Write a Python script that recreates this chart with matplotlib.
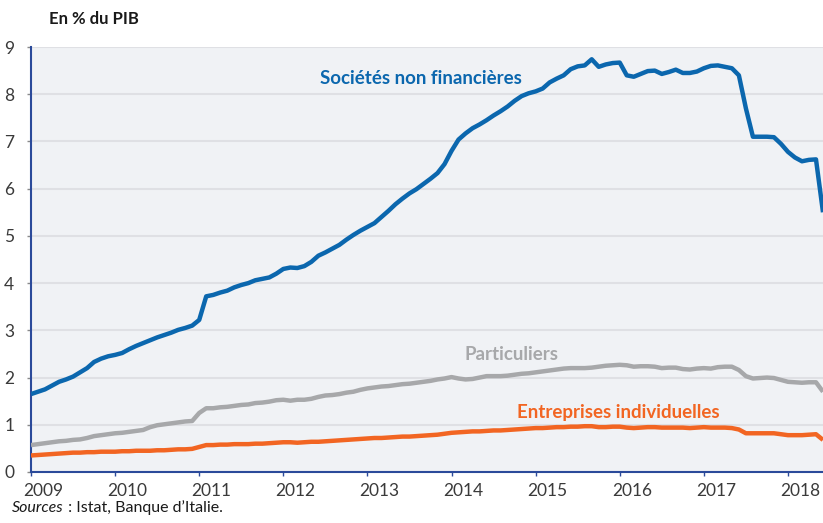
import numpy as np
import matplotlib
matplotlib.use('Agg')
import matplotlib.pyplot as plt
import matplotlib.transforms as mtransforms

plt.rcParams['font.family'] = ['Lato', 'DejaVu Sans']

# Monthly series, January 2009 to June 2018 (en % du PIB)
START_YEAR = 2009
societes = [
    1.65, 1.70, 1.75, 1.83, 1.91, 1.96, 2.02, 2.11, 2.20, 2.33, 2.40, 2.45,
    2.48, 2.52, 2.60, 2.67, 2.73, 2.79, 2.85, 2.90, 2.95, 3.01, 3.05, 3.10,
    3.22, 3.72, 3.75, 3.80, 3.84, 3.91, 3.96, 4.00, 4.06, 4.09, 4.12, 4.20,
    4.30, 4.33, 4.32, 4.36, 4.45, 4.58, 4.65, 4.73, 4.81, 4.92, 5.02, 5.11,
    5.19, 5.27, 5.40, 5.53, 5.67, 5.79, 5.90, 5.99, 6.10, 6.21, 6.33, 6.52,
    6.80, 7.04, 7.17, 7.28, 7.36, 7.45, 7.55, 7.64, 7.74, 7.86, 7.96, 8.02,
    8.06, 8.12, 8.25, 8.33, 8.40, 8.53, 8.59, 8.61, 8.74, 8.58, 8.63, 8.66,
    8.67, 8.40, 8.37, 8.43, 8.49, 8.50, 8.43, 8.47, 8.52, 8.45, 8.45, 8.48,
    8.55, 8.60, 8.61, 8.58, 8.55, 8.40, 7.70, 7.10, 7.10, 7.10, 7.09, 6.95,
    6.78, 6.66, 6.58, 6.61, 6.62, 5.50,
]
particuliers = [
    0.57, 0.59, 0.61, 0.63, 0.65, 0.66, 0.68, 0.69, 0.72, 0.76, 0.78, 0.80,
    0.82, 0.83, 0.85, 0.87, 0.89, 0.95, 0.99, 1.01, 1.03, 1.05, 1.07, 1.08,
    1.25, 1.35, 1.35, 1.37, 1.38, 1.40, 1.42, 1.43, 1.46, 1.47, 1.49, 1.52,
    1.53, 1.51, 1.53, 1.53, 1.55, 1.59, 1.62, 1.63, 1.65, 1.68, 1.70, 1.74,
    1.77, 1.79, 1.81, 1.82, 1.84, 1.86, 1.87, 1.89, 1.91, 1.93, 1.96, 1.98,
    2.01, 1.98, 1.96, 1.97, 2.00, 2.03, 2.03, 2.03, 2.04, 2.06, 2.08, 2.09,
    2.11, 2.13, 2.15, 2.17, 2.19, 2.20, 2.20, 2.20, 2.21, 2.23, 2.25, 2.26,
    2.27, 2.26, 2.23, 2.24, 2.24, 2.23, 2.20, 2.21, 2.21, 2.18, 2.17, 2.19,
    2.20, 2.19, 2.22, 2.23, 2.23, 2.16, 2.03, 1.98, 1.99, 2.00, 1.99, 1.95,
    1.91, 1.90, 1.89, 1.90, 1.90, 1.70,
]
entreprises = [
    0.35, 0.36, 0.37, 0.38, 0.39, 0.40, 0.41, 0.41, 0.42, 0.42, 0.43, 0.43,
    0.43, 0.44, 0.44, 0.45, 0.45, 0.45, 0.46, 0.46, 0.47, 0.48, 0.48, 0.49,
    0.53, 0.57, 0.57, 0.58, 0.58, 0.59, 0.59, 0.59, 0.60, 0.60, 0.61, 0.62,
    0.63, 0.63, 0.62, 0.63, 0.64, 0.64, 0.65, 0.66, 0.67, 0.68, 0.69, 0.70,
    0.71, 0.72, 0.72, 0.73, 0.74, 0.75, 0.75, 0.76, 0.77, 0.78, 0.79, 0.81,
    0.83, 0.84, 0.85, 0.86, 0.86, 0.87, 0.88, 0.88, 0.89, 0.90, 0.91, 0.92,
    0.93, 0.93, 0.94, 0.95, 0.95, 0.96, 0.96, 0.97, 0.97, 0.95, 0.95, 0.96,
    0.96, 0.94, 0.93, 0.94, 0.95, 0.95, 0.94, 0.94, 0.94, 0.94, 0.93, 0.94,
    0.95, 0.94, 0.94, 0.94, 0.93, 0.90, 0.82, 0.82, 0.82, 0.82, 0.82, 0.80,
    0.78, 0.78, 0.78, 0.79, 0.80, 0.68,
]
years = list(range(2009, 2019))
yticks = list(range(0, 10))

BLUE = '#0b67ae'
GREY = '#a7a8aa'
ORANGE = '#f26522'
AXIS_BLUE = '#2b4a9a'

dates = START_YEAR + np.arange(len(societes)) / 12.0

fig = plt.figure(figsize=(8.23, 5.23), dpi=100)
ax = fig.add_axes([31 / 823, 51 / 523, 792 / 823, 425 / 523])
ax.set_facecolor('#f0f2f5')

ax.plot(dates, entreprises, color=ORANGE, lw=3.2, solid_capstyle='butt', zorder=3)
ax.plot(dates, particuliers, color=GREY, lw=3.2, solid_capstyle='butt', zorder=3)
ax.plot(dates, societes, color=BLUE, lw=3.2, solid_capstyle='butt', zorder=4)

ax.set_xlim(2009, dates[-1])
ax.set_ylim(0, 9)
ax.set_yticks(yticks)
ax.set_xticks(years)
ax.set_xticklabels([str(y) for y in years])
ax.yaxis.grid(True, color='#dfe0e4', lw=1.5)
ax.set_axisbelow(True)

for side in ['top', 'right']:
    ax.spines[side].set_visible(False)
for side in ['left', 'bottom']:
    ax.spines[side].set_color(AXIS_BLUE)
    ax.spines[side].set_linewidth(1.5)

ax.tick_params(axis='x', length=3, width=1, color=AXIS_BLUE, pad=5,
               labelsize=12.5, labelcolor='#3a3a3a')
ax.tick_params(axis='y', length=3, width=1, color='#8a8a8a', pad=9,
               labelsize=12.5, labelcolor='#3a3a3a')

# year labels sit a little to the right of their ticks
shift = mtransforms.ScaledTranslation(12 / 100, 0, fig.dpi_scale_trans)
for lbl in ax.get_xticklabels():
    lbl.set_transform(lbl.get_transform() + shift)

# series labels
ax.text(2013.64, 8.33, 'Sociétés non financières', color=BLUE, fontsize=13.5,
        fontweight='bold', ha='center', va='center')
ax.text(2014.71, 2.48, 'Particuliers', color=GREY, fontsize=13.5,
        fontweight='bold', ha='center', va='center')
ax.text(2015.98, 1.27, 'Entreprises individuelles', color=ORANGE, fontsize=13.5,
        fontweight='bold', ha='center', va='center')

fig.text(49 / 823, 1 - 19 / 523, 'En % du PIB', fontsize=12, fontweight='bold',
         color='#1a1a1a', ha='left', va='center')
src = fig.text(12 / 823, 1 - 508 / 523, 'Sources', fontsize=11.5, style='italic',
               color='#1a1a1a', ha='left', va='center')
fig.canvas.draw()
bb = src.get_window_extent()
fig.text(bb.x1 / 823, 1 - 508 / 523, ' : Istat, Banque d\u2019Italie.', fontsize=11.5,
         color='#1a1a1a', ha='left', va='center')

fig.savefig('out.png', dpi=100)
